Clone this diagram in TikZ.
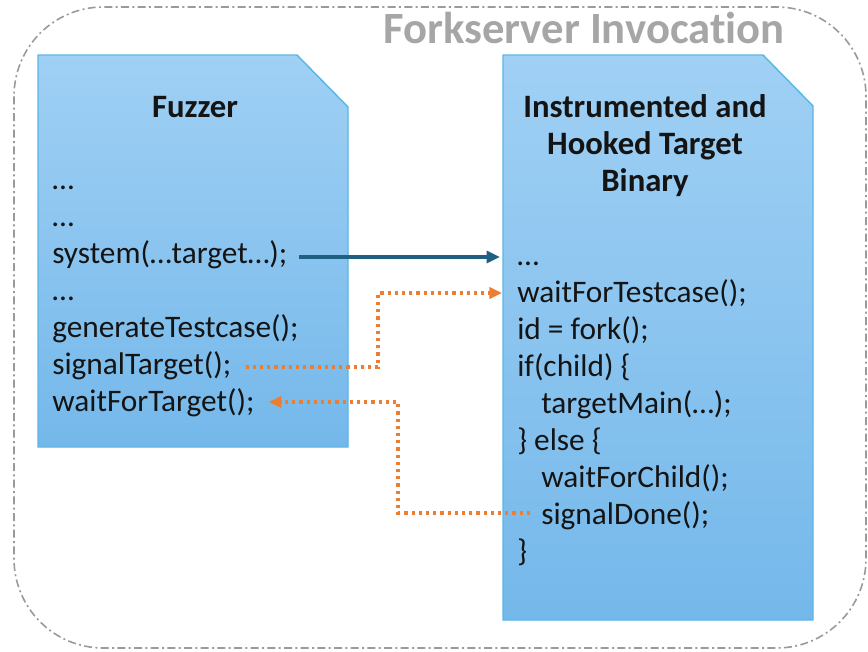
\documentclass[tikz,border=0pt]{standalone}
\usepackage{fontspec}
\setmainfont{Carlito}[Ligatures=NoCommon]
\usetikzlibrary{arrows.meta,calc}
\definecolor{framegray}{HTML}{9A9A9A}
\definecolor{titlegray}{HTML}{A6A6A6}
\definecolor{docedge}{HTML}{5AB6E6}
\definecolor{doctop}{HTML}{A0D0F4}
\definecolor{docbottom}{HTML}{74B8EA}
\definecolor{callteal}{HTML}{1E5F82}
\definecolor{signalorange}{HTML}{ED7D31}
\tikzset{
  docshape/.style={draw=docedge, line width=1.1pt, top color=doctop, bottom color=docbottom},
  codeline/.style={anchor=base west, inner sep=0pt, text=black!92, font=\fontsize{23.5}{28}\selectfont},
  doctitle/.style={anchor=base, inner sep=0pt, text=black!92, font=\fontsize{24.5}{28}\selectfont\bfseries},
  callarrow/.style={draw=callteal, line width=2.3pt, -{Triangle[length=10pt,width=9pt]}},
  signalarrow/.style={draw=signalorange, line width=2.6pt, line cap=butt, dash pattern=on 2.4pt off 3pt,
    -{Triangle[length=9.5pt,width=8.5pt,sep=0pt]}}
}
\begin{document}
\begin{tikzpicture}[x=0.75pt,y=-0.75pt]
\useasboundingbox (0,0) rectangle (868,651);

% dash-dotted frame around the whole invocation
\draw[framegray, line width=1.2pt, rounded corners=67pt,
      dash pattern=on 6pt off 2.5pt on 1.5pt off 2.5pt]
  (14,7) rectangle (866,648);
\node[anchor=base, inner sep=0pt, text=titlegray, font=\fontsize{33.5}{38}\selectfont\bfseries]
  (frametitle) at (584,43) {Forkserver Invocation};

% document shapes with a clipped upper right corner
\path[docshape] (38,55) -- (297,55) -- (348,107) -- (348,447) -- (38,447) -- cycle;
\path[docshape] (503,55) -- (763,55) -- (813,106) -- (813,620) -- (503,620) -- cycle;

% fuzzer side
\node[doctitle] (fuzztitle) at (195,117) {Fuzzer};
\node[codeline] (f1) at (52,189) {…};
\node[codeline] (f2) at (52,226) {…};
\node[codeline] (fsys) at (52,263) {system(…target…);};
\node[codeline] (f4) at (52,300) {…};
\node[codeline] (fgen) at (52,337) {generateTestcase();};
\node[codeline] (fsig) at (52,374) {signalTarget();};
\node[codeline] (fwait) at (52,411) {waitForTarget();};

% target side
\node[doctitle] (tt1) at (645,117) {Instrumented and};
\node[doctitle] (tt2) at (645,154) {Hooked Target};
\node[doctitle] (tt3) at (645,191) {Binary};
\node[codeline] (r1) at (517,265) {…};
\node[codeline] (rwait) at (517,302) {waitForTestcase();};
\node[codeline] (rfork) at (517,339) {id = fork();};
\node[codeline] (rif) at (517,376) {if(child) \{};
\node[codeline] (rmain) at (541,413) {targetMain(…);};
\node[codeline] (relse) at (517,450) {\} else \{};
\node[codeline] (rchild) at (541,487) {waitForChild();};
\node[codeline] (rdone) at (541,524) {signalDone();};
\node[codeline] (rend) at (517,561) {\}};

% bend columns of the signal paths
\coordinate (bendA) at (378,330);
\coordinate (bendB) at (398,460);

% launch of the target
\draw[callarrow] ([shift={(12,-6)}]fsys.base east) -- ([shift={(-17,-8)}]r1.base west);

% fuzzer signals the target
\coordinate (sigstart) at ([shift={(14,-7)}]fsig.base east);
\coordinate (sigend) at ([shift={(-15,-9)}]rwait.base west);
\draw[signalarrow] (sigstart) -- (sigstart -| bendA) -- (bendA |- sigend) -- (sigend);

% target reports completion
\coordinate (donestart) at ([shift={(-11,-11)}]rdone.base west);
\coordinate (doneend) at ([shift={(14,-9)}]fwait.base east);
\draw[signalarrow] (donestart) -- (donestart -| bendB) -- (bendB |- doneend) -- (doneend);
\end{tikzpicture}
\end{document}
